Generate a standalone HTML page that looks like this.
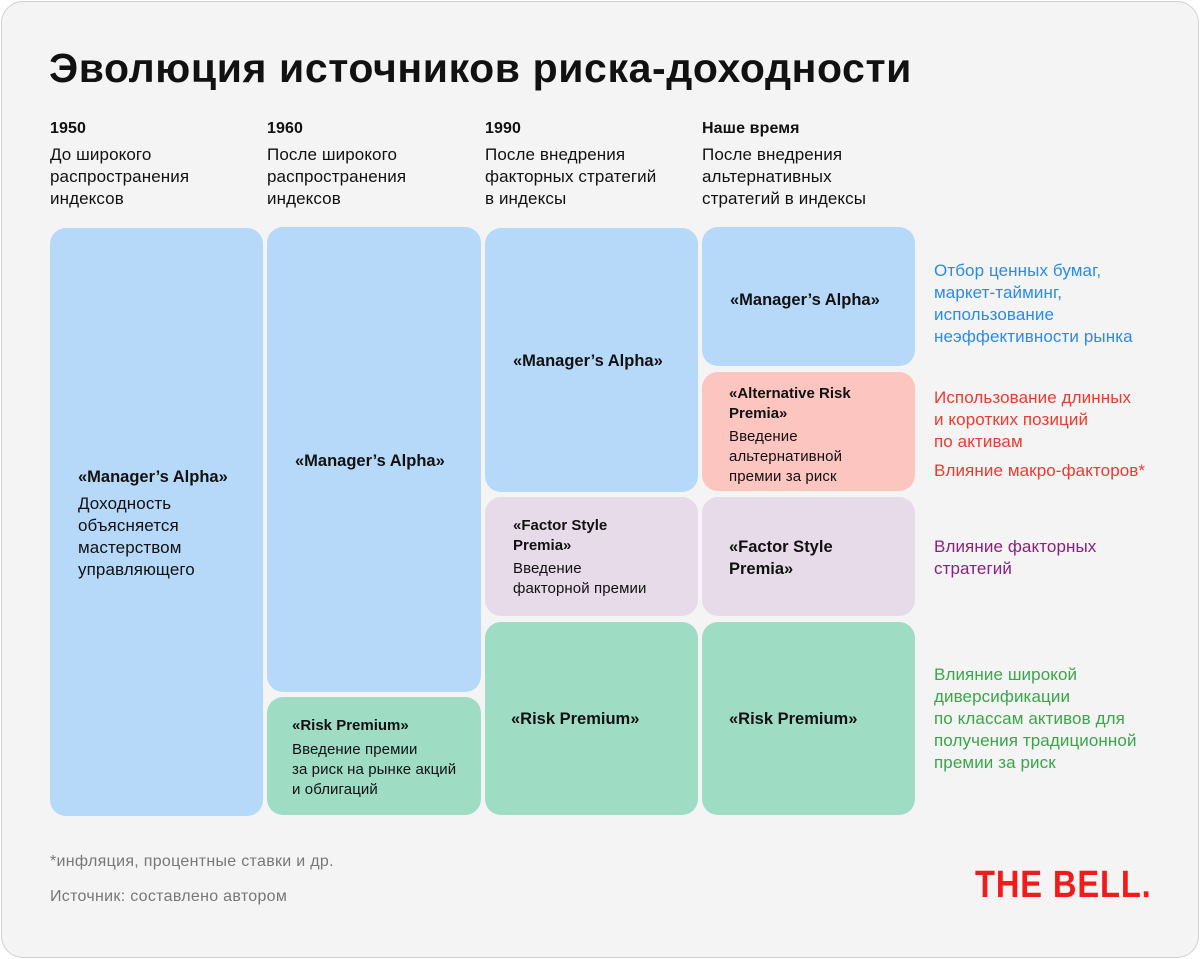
<!DOCTYPE html>
<html><head><meta charset="utf-8"><style>
*{margin:0;padding:0;box-sizing:border-box}
body{width:1200px;height:959px;background:#fff;font-family:"Liberation Sans",sans-serif;color:#111;position:relative;overflow:hidden}
.card{position:absolute;left:1px;top:1px;width:1198px;height:957px;background:#f4f4f4;border:1px solid #d0d0d0;border-radius:22px}
.a{position:absolute;font-size:17px;line-height:22px;white-space:nowrap;letter-spacing:0.1px}
.b{font-weight:bold}
.box{position:absolute;border-radius:16px}
.bl{background:#b6d9fa}.gr{background:#9fdcc4}.pu{background:#e8dbe9}.pk{background:#fdc5c0}
.t{position:absolute;font-size:17px;line-height:22px;white-space:nowrap;letter-spacing:0.1px}
.t.b{font-size:16.5px;letter-spacing:0}
.t.b.s{font-size:15px}
.s{font-size:15px;line-height:20px}
</style></head><body>
<div class="card"></div>
<div class="a b" style="left:49px;top:43px;font-size:41px;line-height:50px;letter-spacing:0.6px">Эволюция источников риска-доходности</div>

<div class="a b" style="left:50px;top:118px;font-size:16px">1950</div>
<div class="a" style="left:50px;top:144px">До широкого<br>распространения<br>индексов</div>
<div class="a b" style="left:267px;top:118px;font-size:16px">1960</div>
<div class="a" style="left:267px;top:144px">После широкого<br>распространения<br>индексов</div>
<div class="a b" style="left:485px;top:118px;font-size:16px">1990</div>
<div class="a" style="left:485px;top:144px">После внедрения<br>факторных стратегий<br>в индексы</div>
<div class="a b" style="left:702px;top:118px;font-size:16px">Наше время</div>
<div class="a" style="left:702px;top:144px">После внедрения<br>альтернативных<br>стратегий в индексы</div>

<div class="box bl" style="left:50px;top:228px;width:213px;height:588px"></div>
<div class="box bl" style="left:267px;top:227px;width:214px;height:465px"></div>
<div class="box gr" style="left:267px;top:697px;width:214px;height:118px"></div>
<div class="box bl" style="left:485px;top:228px;width:213px;height:264px"></div>
<div class="box pu" style="left:485px;top:497px;width:213px;height:119px"></div>
<div class="box gr" style="left:485px;top:622px;width:213px;height:193px"></div>
<div class="box bl" style="left:702px;top:227px;width:213px;height:139px"></div>
<div class="box pk" style="left:702px;top:372px;width:213px;height:119px"></div>
<div class="box pu" style="left:702px;top:497px;width:213px;height:119px"></div>
<div class="box gr" style="left:702px;top:622px;width:213px;height:193px"></div>

<div class="t b" style="left:78px;top:466px">«Manager’s Alpha»</div>
<div class="t" style="left:78px;top:493px">Доходность<br>объясняется<br>мастерством<br>управляющего</div>
<div class="t b" style="left:295px;top:450px">«Manager’s Alpha»</div>
<div class="t b s" style="left:292px;top:716px">«Risk Premium»</div>
<div class="t s" style="left:292px;top:740px">Введение премии<br>за риск на рынке акций<br>и облигаций</div>
<div class="t b" style="left:513px;top:350px">«Manager’s Alpha»</div>
<div class="t b s" style="left:513px;top:516px">«Factor Style<br>Premia»</div>
<div class="t s" style="left:513px;top:559px">Введение<br>факторной премии</div>
<div class="t b" style="left:511px;top:708px">«Risk Premium»</div>
<div class="t b" style="left:730px;top:289px">«Manager’s Alpha»</div>
<div class="t b s" style="left:729px;top:384px">«Alternative Risk<br>Premia»</div>
<div class="t s" style="left:729px;top:427px">Введение<br>альтернативной<br>премии за риск</div>
<div class="t b" style="left:729px;top:536px">«Factor Style<br>Premia»</div>
<div class="t b" style="left:729px;top:708px">«Risk Premium»</div>

<div class="t" style="left:934px;top:260px;color:#2a8bea">Отбор ценных бумаг,<br>маркет-тайминг,<br>использование<br>неэффективности рынка</div>
<div class="t" style="left:934px;top:387px;color:#ec3a2e">Использование длинных<br>и коротких позиций<br>по активам</div>
<div class="t" style="left:934px;top:460px;color:#ec3a2e">Влияние макро-факторов*</div>
<div class="t" style="left:934px;top:536px;color:#8a2080">Влияние факторных<br>стратегий</div>
<div class="t" style="left:934px;top:664px;color:#3aa64a">Влияние широкой<br>диверсификации<br>по классам активов для<br>получения традиционной<br>премии за риск</div>

<div class="t" style="left:50px;top:851px;color:#777;font-size:16px;letter-spacing:0.3px">*инфляция, процентные ставки и др.</div>
<div class="t" style="left:50px;top:886px;color:#777;font-size:16px;letter-spacing:0.3px">Источник: составлено автором</div>
<div class="t b" style="left:975px;top:865px;color:#f01c1c;font-size:38px;line-height:40px;font-weight:900;letter-spacing:1px;transform:scaleX(0.86);transform-origin:left top">THE BELL.</div>
</body></html>
